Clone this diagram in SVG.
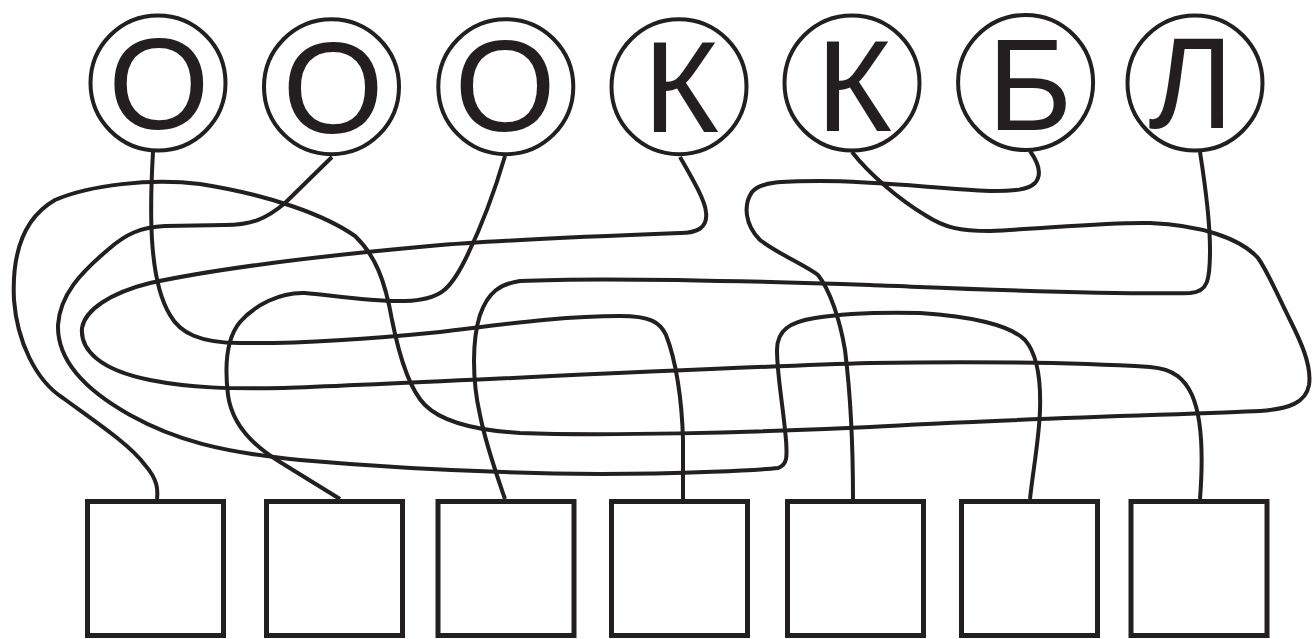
<svg xmlns="http://www.w3.org/2000/svg" width="1313" height="639" viewBox="0 0 1313 639">
<style>
.c{fill:none;stroke:#231f20;stroke-width:4}
.b{fill:#fff;stroke:#231f20;stroke-width:5}
.l{fill:none;stroke:#231f20;stroke-width:4;stroke-linecap:butt;stroke-linejoin:round}
.t{font-family:"Liberation Sans",Arial,sans-serif;font-size:130px;fill:#231f20;text-anchor:middle}
</style>
<rect width="1313" height="639" fill="#fff"/>
<g id="connectors">
<path class="l" d="M153,152 C149,220 150,282 170,315 C180,333 200,343 240,343 C300,344 380,338 440,332 C500,325 560,316 620,316 C650,316 660,322 666,335 C676,360 682,400 683,440 L683,499"/>
<path class="l" d="M332,157 L285,203 C265,220 250,225 225,225 L165,226 C140,227 125,235 110,248 C80,273 60,295 58,325 C57,360 85,390 130,415 C175,440 220,452 300,460 C380,467 480,473 600,474 C680,474 760,470 778,468 C788,465 787,455 786,440 C783,405 777,375 777,350 C777,330 790,322 815,318 C840,314 880,312 920,313 C970,316 1010,325 1025,340 C1038,355 1041,380 1040,410 C1039,440 1033,470 1030,499"/>
<path class="l" d="M505,156 C495,190 480,230 465,260 C450,290 440,300 405,301 C370,302 330,295 305,293 C280,292 255,305 240,322 C225,340 225,370 228,395 C232,425 255,447 280,462 L340,499"/>
<path class="l" d="M680,157 C692,178 705,200 706,212 C708,228 697,233 680,233 C600,236 500,240 430,246 C330,255 220,268 150,283 C110,293 85,310 82,328 C80,350 100,370 150,380 C190,388 230,389 283,388 C400,384 700,368 870,363 C1000,361 1100,364 1150,367 C1175,369 1185,380 1192,395 C1203,420 1203,460 1200,499"/>
<path class="l" d="M852,152 C870,175 900,200 925,215 C945,228 960,231 990,231 C1050,228 1110,222 1150,223 C1200,225 1240,238 1258,258 C1268,272 1275,290 1290,320 C1300,340 1312,365 1309,385 C1306,402 1290,409 1260,411 C1200,414 1000,419 870,427 C750,433 600,436 520,433 C470,430 440,420 425,405 C410,390 400,360 392,320 C385,280 375,255 355,236 C325,215 270,195 200,184 C150,178 90,185 55,200 C20,220 12,260 14,300 C17,340 35,380 63,398 C100,425 130,445 145,465 C158,480 158,490 157,499"/>
<path class="l" d="M1030,151 C1040,165 1042,175 1035,183 C1028,190 1015,191 990,191 C940,189 880,181 820,181 C780,181 760,182 752,192 C743,205 745,225 760,240 C780,255 805,265 818,275 C830,290 840,320 845,350 C850,390 853,440 853,499"/>
<path class="l" d="M1200,152 C1206,190 1210,220 1210,250 C1210,280 1208,292 1190,293 C1100,295 950,288 870,285 C750,281 600,277 520,281 C500,284 488,292 480,315 C472,340 472,380 480,415 C486,445 495,470 505,499"/>
</g>
<g id="node-O1"><circle class="c" cx="158" cy="83" r="67.5"/><text class="t" x="158.8" y="129">О</text></g>
<g id="node-O2"><circle class="c" cx="331.5" cy="86.7" r="67.5"/><text class="t" x="333" y="133">О</text></g>
<g id="node-O3"><circle class="c" cx="505.8" cy="86.7" r="67.5"/><text class="t" x="505" y="131">О</text></g>
<g id="node-K1"><circle class="c" cx="679" cy="86.7" r="67.5"/><text class="t" x="681" y="131.7">К</text></g>
<g id="node-K2"><circle class="c" cx="852" cy="83" r="67.5"/><text class="t" x="854" y="130.7">К</text></g>
<g id="node-B"><circle class="c" cx="1025.6" cy="82.5" r="67.5"/><text class="t" x="1030" y="130">Б</text></g>
<g id="node-L"><circle class="c" cx="1195" cy="83" r="67.5"/><text class="t" x="1191" y="128.3">Л</text></g>
<g id="box-1"><rect class="b" x="87.5" y="501.5" width="136" height="134"/></g>
<g id="box-2"><rect class="b" x="266.5" y="501.5" width="136" height="134"/></g>
<g id="box-3"><rect class="b" x="438" y="501.5" width="136" height="134"/></g>
<g id="box-4"><rect class="b" x="611.5" y="501.5" width="136" height="134"/></g>
<g id="box-5"><rect class="b" x="787.5" y="501.5" width="136" height="134"/></g>
<g id="box-6"><rect class="b" x="961.5" y="501.5" width="136" height="134"/></g>
<g id="box-7"><rect class="b" x="1131" y="501.5" width="136" height="134"/></g>
</svg>
